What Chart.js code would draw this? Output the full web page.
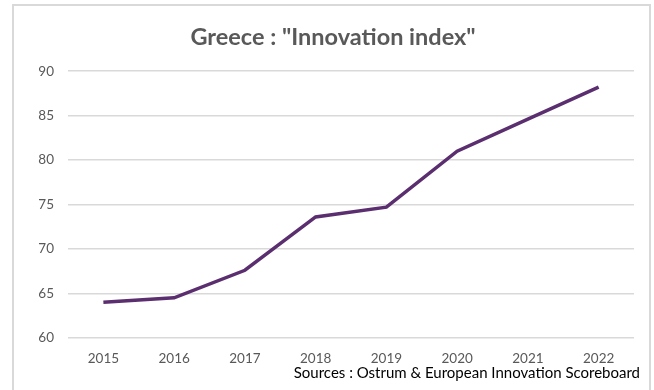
<!DOCTYPE html>
<html>
<head>
<meta charset="utf-8">
<script src="https://cdn.jsdelivr.net/npm/chart.js@4"></script>
<style>
  body { margin: 0; background: #fff; }
  #wrap { position: relative; width: 654px; height: 390px; }
  #frame {
    position: absolute; left: 12px; top: 4px; width: 639px; height: 400px;
    border: 2px solid #d9d9d9; border-bottom: none; box-sizing: border-box;
  }
  #source {
    position: absolute; right: 14px; top: 363px;
    font: 15px Lato, sans-serif; color: #000; white-space: nowrap;
  }
</style>
</head>
<body>
<div id="wrap">
  <div id="frame"></div>
  <canvas id="innovationChart" width="654" height="390"></canvas>
  <div id="source">Sources : Ostrum &amp; European Innovation Scoreboard</div>
</div>
<script>
const years = ['2015', '2016', '2017', '2018', '2019', '2020', '2021', '2022'];
const innovationIndex = [64.0, 64.5, 67.6, 73.6, 74.7, 81.0, 84.6, 88.2];
const yMin = 60, yMax = 90, yStep = 5;

// Innovation index line
new Chart(document.getElementById('innovationChart'), {
  type: 'line',
  data: {
    labels: years,
    datasets: [{
      label: 'Innovation index',
      data: innovationIndex,
      borderColor: '#5b2e6f',
      borderWidth: 3.5,
      pointRadius: 0,
      tension: 0,
      fill: false
    }]
  },
  options: {
    responsive: false,
    animation: false,
    // left padding keeps the title centred inside the frame
    layout: { padding: { left: 32, right: 20, top: 0, bottom: 10 } },
    plugins: {
      legend: { display: false },
      tooltip: { enabled: false },
      title: {
        display: true,
        text: 'Greece : "Innovation index"',
        color: '#595959',
        font: { family: 'Lato', size: 23.5, weight: 'bold' },
        padding: { top: 23, bottom: 20 }
      }
    },
    scales: {
      x: {
        offset: true,
        grid: { display: false, drawTicks: false },
        border: { display: false },
        ticks: { color: '#595959', font: { family: 'Lato', size: 13.5 }, padding: 13 }
      },
      y: {
        min: yMin, max: yMax,
        afterFit: (scale) => { scale.width = 36; },
        grid: { color: '#d9d9d9', lineWidth: 1.5, drawTicks: false },
        border: { display: false },
        ticks: { stepSize: yStep, color: '#595959', font: { family: 'Lato', size: 13.5 }, padding: 14 }
      }
    }
  }
});
</script>
</body>
</html>
